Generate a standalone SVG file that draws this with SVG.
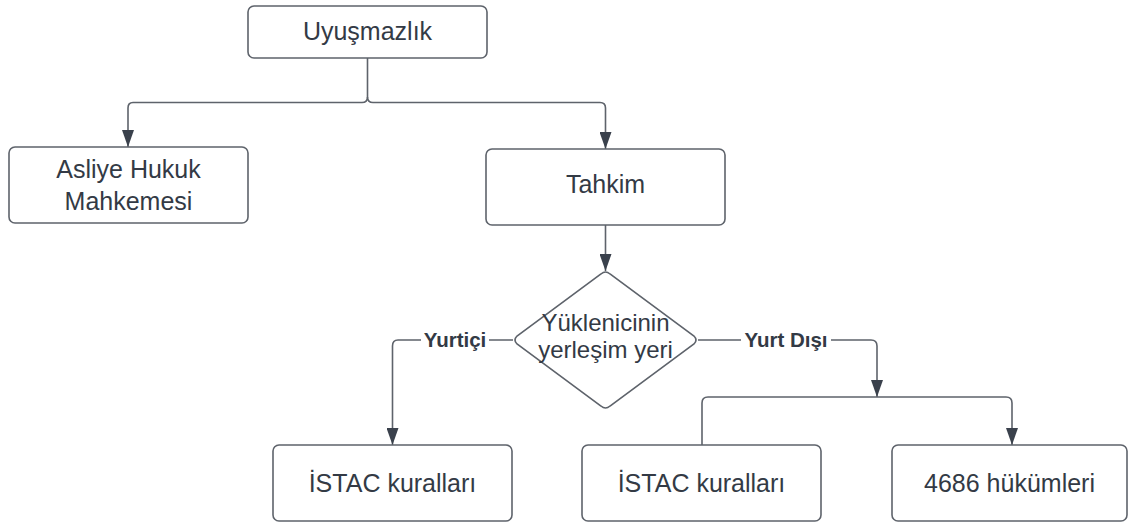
<svg xmlns="http://www.w3.org/2000/svg" width="1128" height="525" viewBox="0 0 1128 525">
<style>
.box{fill:#fff;stroke:#5e636b;stroke-width:1.6}
.t{font-family:"Liberation Sans",Arial,sans-serif;font-size:25px;fill:#333a45;text-anchor:middle}
.lbl{font-family:"Liberation Sans",Arial,sans-serif;font-size:20.5px;font-weight:bold;fill:#333a45;text-anchor:middle}
.c{fill:none;stroke:#5e636b;stroke-width:1.6}
</style>
<defs>
<marker id="ah" markerWidth="17" markerHeight="12" viewBox="0 0 17 12" refX="17" refY="6" orient="auto" markerUnits="userSpaceOnUse">
<path d="M0,0 L17,6 L0,12 Z" fill="#3a414c"/>
</marker>
</defs>
<rect width="1128" height="525" fill="#fff"/>
<g id="connectors">
<path class="c" d="M367.5,58 V97 Q367.5,102.5 362,102.5 H133 Q128,102.5 128,108 V147" marker-end="url(#ah)"/>
<path class="c" d="M367.5,97 Q367.5,102.5 373,102.5 H600 Q605.5,102.5 605.5,108 V149" marker-end="url(#ah)"/>
<path class="c" d="M605.5,225 V271" marker-end="url(#ah)"/>
<path class="c" d="M513,340 H398 Q392.5,340 392.5,346 V445" marker-end="url(#ah)"/>
<path class="c" d="M698,340 H871 Q877,340 877,346 V397" marker-end="url(#ah)"/>
<path class="c" d="M702,445 V403 Q702,397 708,397 H1006 Q1012,397 1012,403 V445" marker-end="url(#ah)"/>
</g>
<g id="label-yurtici">
<rect x="421" y="328" width="68" height="24" fill="#fff"/>
<text class="lbl" x="455" y="347">Yurtiçi</text>
</g>
<g id="label-yurtdisi">
<rect x="741" y="328" width="90" height="24" fill="#fff"/>
<text class="lbl" x="786" y="347">Yurt Dışı</text>
</g>
<g id="n-uyusmazlik">
<rect class="box" x="248" y="6" width="239" height="52" rx="6"/>
<text class="t" x="367.5" y="40">Uyuşmazlık</text>
</g>
<g id="n-asliye">
<rect class="box" x="9" y="147" width="239" height="76" rx="6"/>
<text class="t" x="128.5" y="178">Asliye Hukuk</text>
<text class="t" x="128.5" y="210">Mahkemesi</text>
</g>
<g id="n-tahkim">
<rect class="box" x="486" y="149" width="239" height="76" rx="6"/>
<text class="t" x="605.5" y="193">Tahkim</text>
</g>
<g id="n-yerlesim">
<path class="box" d="M601,274 Q605.5,270 610,274 L694,336 Q698,340 694,344 L610,406 Q605.5,410 601,406 L517,344 Q513,340 517,336 Z"/>
<text class="t" x="605.5" y="331" style="font-size:24px">Yüklenicinin</text>
<text class="t" x="605.5" y="358" style="font-size:24px">yerleşim yeri</text>
</g>
<g id="n-istac1">
<rect class="box" x="273" y="445" width="239" height="76" rx="6"/>
<text class="t" x="392.5" y="492">İSTAC kuralları</text>
</g>
<g id="n-istac2">
<rect class="box" x="582" y="445" width="239" height="76" rx="6"/>
<text class="t" x="701.5" y="492">İSTAC kuralları</text>
</g>
<g id="n-4686">
<rect class="box" x="892" y="445" width="235" height="76" rx="6"/>
<text class="t" x="1009.5" y="492">4686 hükümleri</text>
</g>
</svg>
